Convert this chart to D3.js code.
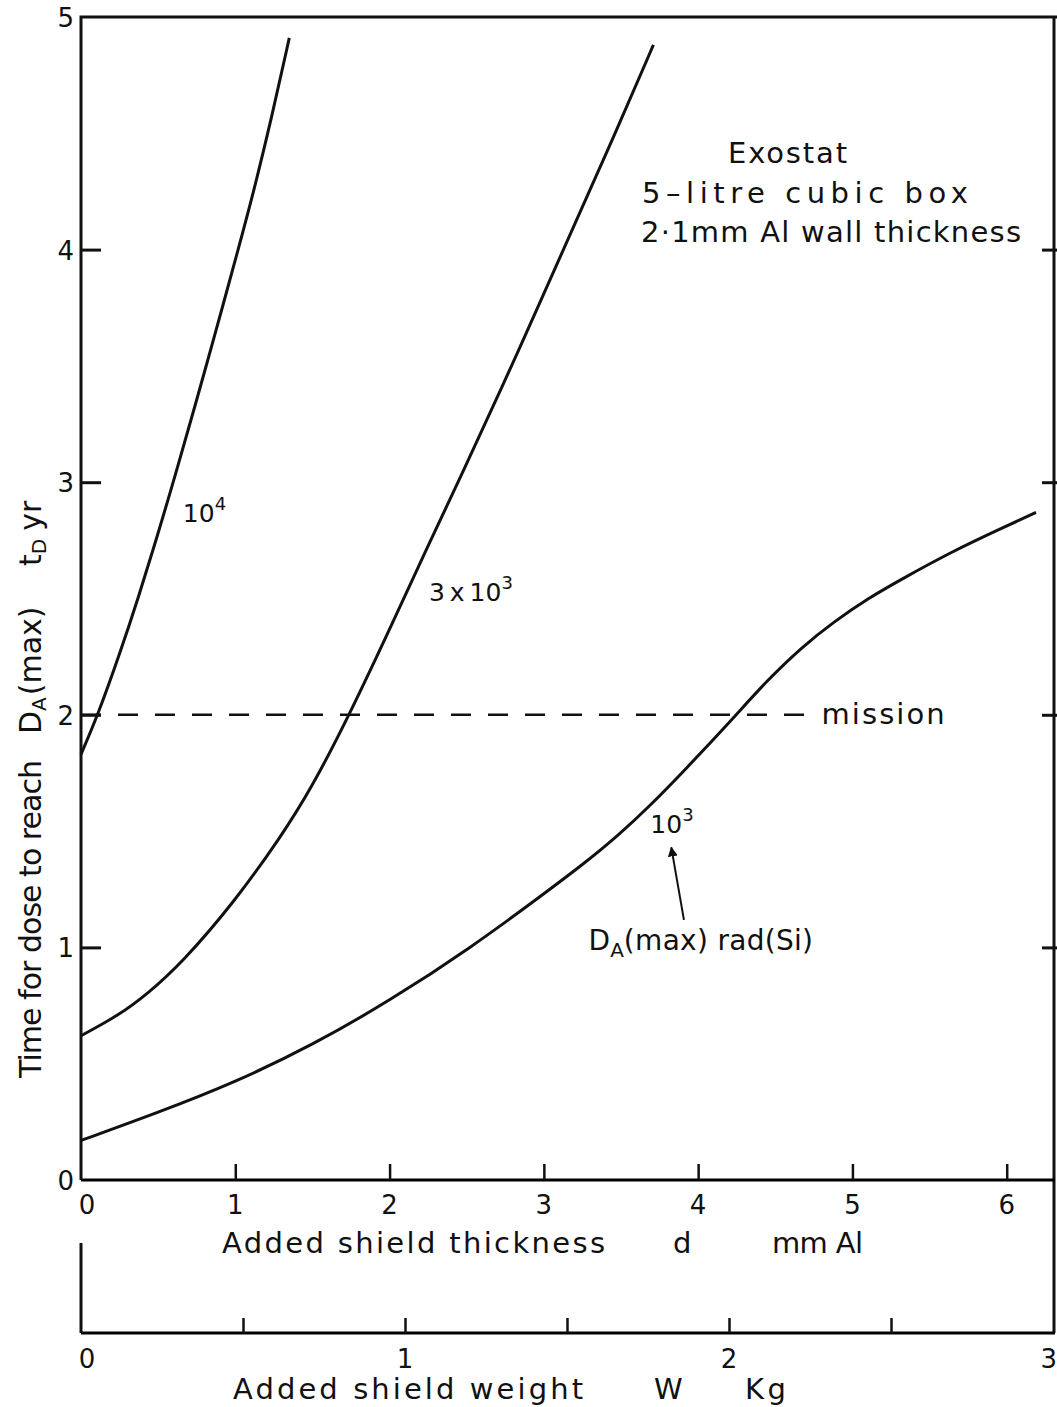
<!DOCTYPE html>
<html>
<head>
<meta charset="utf-8">
<script src="https://cdn.jsdelivr.net/npm/d3@7"></script>
<style>
  body { margin: 0; background: #fff; }
  svg { display: block; }
  text { font-family: "DejaVu Sans", "Liberation Sans", sans-serif; fill: #111; }
</style>
</head>
<body>
<svg width="1057" height="1407"></svg>
<script>
// thickness d (mm Al) vs time t (yr) for each dose level
var d1e4 = [0, 0.11, 0.25, 0.37, 0.5, 0.62, 0.74, 0.87, 0.99, 1.12, 1.24, 1.35];
var t1e4 = [1.83, 2.0, 2.26, 2.5, 2.78, 3.05, 3.33, 3.64, 3.93, 4.25, 4.58, 4.91];

var d3e3 = [0, 0.25, 0.43, 0.65, 1.0, 1.3, 1.49, 1.74, 2.03, 2.23, 2.48, 2.73, 2.98, 3.22, 3.47, 3.71];
var t3e3 = [0.62, 0.71, 0.80, 0.93, 1.20, 1.48, 1.68, 2.0, 2.41, 2.70, 3.05, 3.41, 3.78, 4.14, 4.51, 4.88];

var d1e3 = [0, 0.5, 1.0, 1.5, 2.0, 2.53, 3.0, 3.26, 3.48, 3.69, 3.91, 4.22, 4.45, 4.67, 4.88, 5.1, 5.31, 5.64, 5.96, 6.19];
var t1e3 = [0.17, 0.29, 0.42, 0.58, 0.77, 1.0, 1.23, 1.36, 1.48, 1.61, 1.76, 1.98, 2.15, 2.29, 2.40, 2.50, 2.58, 2.70, 2.80, 2.87];

var missionYears = 2;
var yTicks = [0, 1, 2, 3, 4, 5];
var dTicks = [0, 1, 2, 3, 4, 5, 6];
var wTicks = [0, 0.5, 1, 1.5, 2, 2.5, 3];
var wLabels = [0, 1, 2, 3];

var svg = d3.select("svg");

var x = d3.scaleLinear().domain([0, 6.3]).range([81, 1053]);
var y = d3.scaleLinear().domain([0, 5]).range([1180, 17]);
var w = d3.scaleLinear().domain([0, 3]).range([81, 1053]);
var wy = 1333;

var line = d3.line()
  .x(d => x(d[0]))
  .y(d => y(d[1]))
  .curve(d3.curveBasis);

var series = [
  d3.zip(d1e4, t1e4),
  d3.zip(d3e3, t3e3),
  d3.zip(d1e3, t1e3)
];

// plain text stretched to the width it has in the figure
function label(px, py, str, len, size) {
  return svg.append("text")
    .attr("x", px).attr("y", py)
    .attr("font-size", size || 29)
    .attr("textLength", len)
    .attr("lengthAdjust", "spacing")
    .text(str);
}

// frame
svg.append("path")
  .attr("d", "M" + x(0) + "," + y(0) + "V" + y(5) + "H1057")
  .attr("fill", "none").attr("stroke", "#111").attr("stroke-width", 3);
svg.append("line")
  .attr("x1", 1054).attr("x2", 1054).attr("y1", y(5)).attr("y2", wy)
  .attr("stroke", "#111").attr("stroke-width", 3);

// left y axis ticks (inward)
var yAxis = d3.axisRight(y).tickValues(yTicks.slice(1, 5)).tickSize(20).tickFormat("");
svg.append("g").attr("transform", "translate(" + x(0) + ",0)").call(yAxis)
  .call(g => g.select(".domain").remove())
  .selectAll("line").attr("stroke", "#111").attr("stroke-width", 3);

// right ticks
var yAxisR = d3.axisLeft(y).tickValues(yTicks.slice(1, 5)).tickSize(15).tickFormat("");
svg.append("g").attr("transform", "translate(1057,0)").call(yAxisR)
  .call(g => g.select(".domain").remove())
  .selectAll("line").attr("stroke", "#111").attr("stroke-width", 3);

svg.append("g").selectAll("text")
  .data(yTicks)
  .join("text")
  .attr("x", 74)
  .attr("y", d => y(d) + 10)
  .attr("text-anchor", "end")
  .attr("font-size", 26)
  .text(d => d);

// thickness axis
var dAxis = d3.axisTop(x).tickValues(dTicks.slice(1)).tickSize(16).tickFormat("");
svg.append("g").attr("transform", "translate(0," + y(0) + ")").call(dAxis)
  .call(g => g.select(".domain").attr("stroke-width", 3).attr("d", "M" + x(0) + ",0H1055"))
  .selectAll("line").attr("stroke", "#111").attr("stroke-width", 2.5);

svg.append("g").selectAll("text")
  .data(dTicks)
  .join("text")
  .attr("x", d => x(d) + (d === 0 ? 6 : 0))
  .attr("y", 1214)
  .attr("text-anchor", "middle")
  .attr("font-size", 26)
  .text(d => d);

label(222, 1253, "Added shield thickness", 383);
label(673, 1253, "d", 17);
label(772, 1253, "mm Al", 91);

// weight axis
var wAxis = d3.axisTop(w).tickValues(wTicks.slice(1, 6)).tickSize(15).tickFormat("");
svg.append("g").attr("transform", "translate(0," + wy + ")").call(wAxis)
  .call(g => g.select(".domain").attr("stroke-width", 3).attr("d", "M" + w(0) + ",0H1055"))
  .selectAll("line").attr("stroke", "#111").attr("stroke-width", 2.5);
svg.append("line")
  .attr("x1", w(0)).attr("x2", w(0)).attr("y1", 1243).attr("y2", wy)
  .attr("stroke", "#111").attr("stroke-width", 3);

svg.append("g").selectAll("text")
  .data(wLabels)
  .join("text")
  .attr("x", d => d === 3 ? 1057 : w(d) + (d === 0 ? 6 : 0))
  .attr("y", 1368)
  .attr("text-anchor", d => d === 3 ? "end" : "middle")
  .attr("font-size", 26)
  .text(d => d);

label(233, 1399, "Added shield weight", 350);
label(654, 1399, "W", 28);
label(745, 1399, "Kg", 41);

// y axis title, split into its three spaced parts
var yt = svg.append("g").attr("transform", "translate(41,1078) rotate(-90)");
yt.append("text").attr("font-size", 30)
  .attr("textLength", 318).attr("lengthAdjust", "spacing")
  .text("Time for dose to reach");
var ytD = yt.append("text").attr("x", 344).attr("font-size", 30);
ytD.append("tspan").text("D");
ytD.append("tspan").attr("font-size", 20).attr("dy", 5).text("A");
ytD.append("tspan").attr("dy", -5).attr("dx", 2).text("(max)");
var ytT = yt.append("text").attr("x", 512).attr("font-size", 30);
ytT.append("tspan").text("t");
ytT.append("tspan").attr("font-size", 20).attr("dy", 5).text("D");
ytT.append("tspan").attr("dy", -5).attr("dx", 8).text("yr");

// mission line
svg.append("line")
  .attr("x1", x(0)).attr("x2", 806)
  .attr("y1", y(missionYears)).attr("y2", y(missionYears))
  .attr("stroke", "#111").attr("stroke-width", 2.5)
  .attr("stroke-dasharray", "20,17");
label(x(4.8), y(1.96), "mission", 123);

// curves
svg.append("g").selectAll("path")
  .data(series)
  .join("path")
  .attr("d", line)
  .attr("fill", "none")
  .attr("stroke", "#111")
  .attr("stroke-width", 3);

// curve labels
function power(px, py, base, exp) {
  var t = svg.append("text").attr("x", px).attr("y", py).attr("font-size", 25);
  t.append("tspan").text(base);
  t.append("tspan").attr("font-size", 18).attr("dy", -12).text(exp);
}
power(x(0.66), y(2.83), "10", "4");
power(x(2.255), y(2.49), "3\u2009x\u200910", "3");
power(x(3.69), y(1.49), "10", "3");

// arrow to 10^3
svg.append("defs").append("marker")
  .attr("id", "arr").attr("viewBox", "0 0 10 10").attr("refX", 9).attr("refY", 5)
  .attr("markerWidth", 5).attr("markerHeight", 5).attr("orient", "auto")
  .append("path").attr("d", "M0,0L10,5L0,10z").attr("fill", "#111");
svg.append("line")
  .attr("x1", x(3.908)).attr("y1", y(1.118))
  .attr("x2", x(3.826)).attr("y2", y(1.43))
  .attr("stroke", "#111").attr("stroke-width", 2)
  .attr("marker-end", "url(#arr)");

var da = svg.append("text").attr("x", x(3.29)).attr("y", y(0.99)).attr("font-size", 28);
da.append("tspan").text("D");
da.append("tspan").attr("font-size", 20).attr("dy", 7).text("A");
da.append("tspan").attr("dy", -7).attr("letter-spacing", 0.3).text("(max)  rad(Si)");

// box note
var note = ["Exostat", "5\u2013litre cubic box", "2\u00b71mm Al wall thickness"];
var noteX = [728, 642, 641];
var noteY = [163, 203, 242];
var noteW = [119, 326, 380];
note.forEach((s, i) => label(noteX[i], noteY[i], s, noteW[i]));
</script>
</body>
</html>
